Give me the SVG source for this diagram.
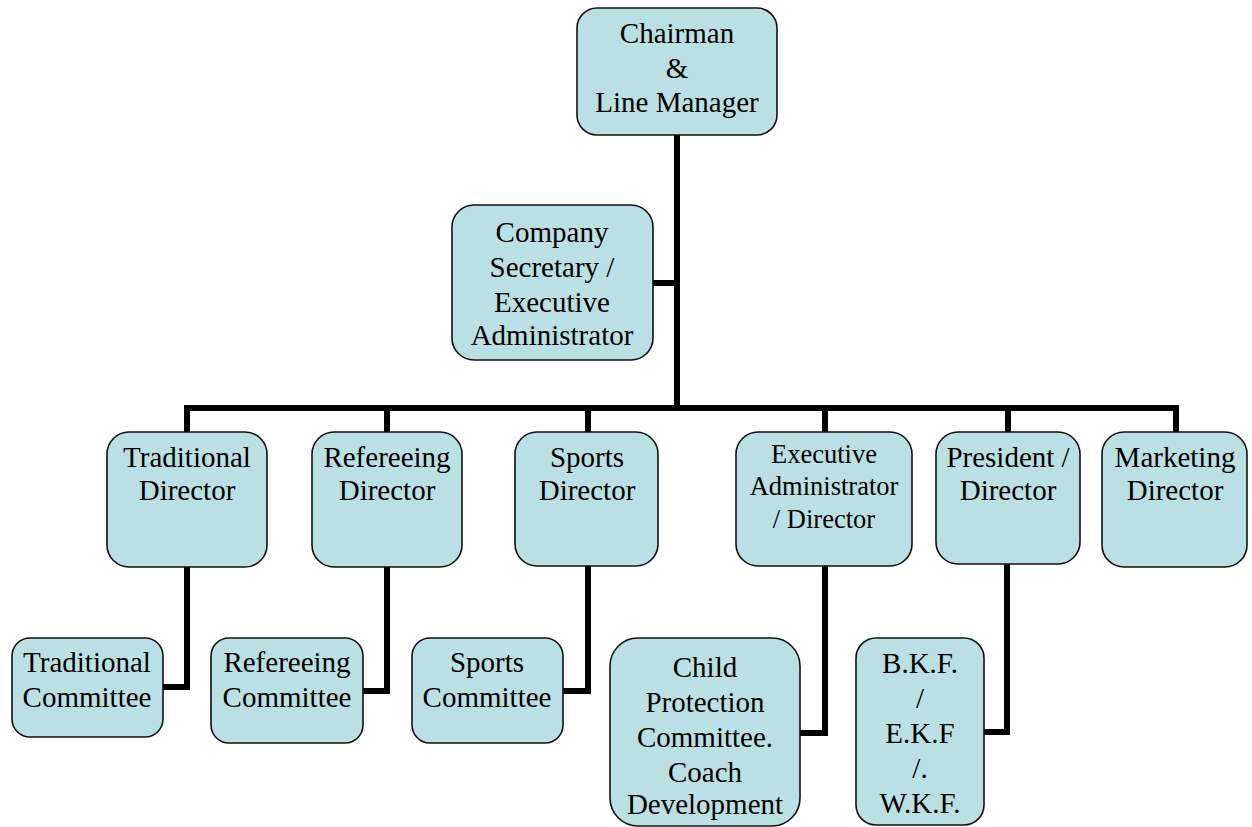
<svg xmlns="http://www.w3.org/2000/svg" width="1252" height="827" viewBox="0 0 1252 827">
<style>
.box{fill:#bbe0e3;stroke:#111;stroke-width:1.6}
.t{font-family:"Liberation Serif","Times New Roman",serif;font-size:29px;fill:#000;text-anchor:middle}
.ts{font-size:26.5px}
.c{fill:none;stroke:#000;stroke-width:6;stroke-linejoin:miter;stroke-linecap:square}
</style>
<rect width="1252" height="827" fill="#fff"/>
<g id="connectors">
<path class="c" d="M677 135 V408"/>
<path class="c" d="M653 283 H677"/>
<path class="c" d="M187 432 V408 H1176 V432"/>
<path class="c" d="M387 408 V432"/>
<path class="c" d="M588 408 V432"/>
<path class="c" d="M825 408 V432"/>
<path class="c" d="M1008 408 V432"/>
<path class="c" d="M187 567 V687 H163"/>
<path class="c" d="M387 567 V691 H363"/>
<path class="c" d="M588 566 V691 H563"/>
<path class="c" d="M825 566 V733 H800"/>
<path class="c" d="M1007 564 V732 H984"/>
</g>
<g id="chairman"><rect class="box" x="577" y="8" width="200" height="127" rx="20"/>
<text class="t" x="677" y="43">Chairman</text><text class="t" x="677" y="78">&amp;</text><text class="t" x="677" y="112">Line Manager</text></g>
<g id="company"><rect class="box" x="452" y="205" width="201" height="155" rx="22"/>
<text class="t" x="552" y="242">Company</text><text class="t" x="552" y="277">Secretary /</text><text class="t" x="552" y="312">Executive</text><text class="t" x="552" y="345">Administrator</text></g>
<g id="trad-dir"><rect class="box" x="107" y="432" width="160" height="135" rx="22"/>
<text class="t" x="187" y="467">Traditional</text><text class="t" x="187" y="500">Director</text></g>
<g id="ref-dir"><rect class="box" x="312" y="432" width="150" height="135" rx="22"/>
<text class="t" x="387" y="467">Refereeing</text><text class="t" x="387" y="500">Director</text></g>
<g id="sports-dir"><rect class="box" x="515" y="432" width="143" height="134" rx="22"/>
<text class="t" x="587" y="467">Sports</text><text class="t" x="587" y="500">Director</text></g>
<g id="exec-dir"><rect class="box" x="736" y="432" width="176" height="134" rx="22"/>
<text class="t ts" x="824" y="463">Executive</text><text class="t ts" x="824" y="495">Administrator</text><text class="t ts" x="824" y="528">/ Director</text></g>
<g id="president"><rect class="box" x="936" y="432" width="144" height="132" rx="22"/>
<text class="t" x="1008" y="467">President /</text><text class="t" x="1008" y="500">Director</text></g>
<g id="marketing"><rect class="box" x="1102" y="432" width="145" height="135" rx="22"/>
<text class="t" x="1175" y="467">Marketing</text><text class="t" x="1175" y="500">Director</text></g>
<g id="trad-com"><rect class="box" x="12" y="638" width="151" height="99" rx="18"/>
<text class="t" x="87" y="672">Traditional</text><text class="t" x="87" y="707">Committee</text></g>
<g id="ref-com"><rect class="box" x="211" y="638" width="152" height="105" rx="18"/>
<text class="t" x="287" y="672">Refereeing</text><text class="t" x="287" y="707">Committee</text></g>
<g id="sports-com"><rect class="box" x="412" y="638" width="151" height="105" rx="18"/>
<text class="t" x="487" y="672">Sports</text><text class="t" x="487" y="707">Committee</text></g>
<g id="child"><rect class="box" x="610" y="638" width="190" height="188" rx="28"/>
<text class="t" x="705" y="677">Child</text><text class="t" x="705" y="712">Protection</text><text class="t" x="705" y="747">Committee.</text><text class="t" x="705" y="782">Coach</text><text class="t" x="705" y="814">Development</text></g>
<g id="bkf"><rect class="box" x="856" y="638" width="128" height="187" rx="20"/>
<text class="t" x="920" y="673">B.K.F.</text><text class="t" x="920" y="708">/</text><text class="t" x="920" y="743">E.K.F</text><text class="t" x="920" y="778">/.</text><text class="t" x="920" y="813">W.K.F.</text></g>
</svg>
